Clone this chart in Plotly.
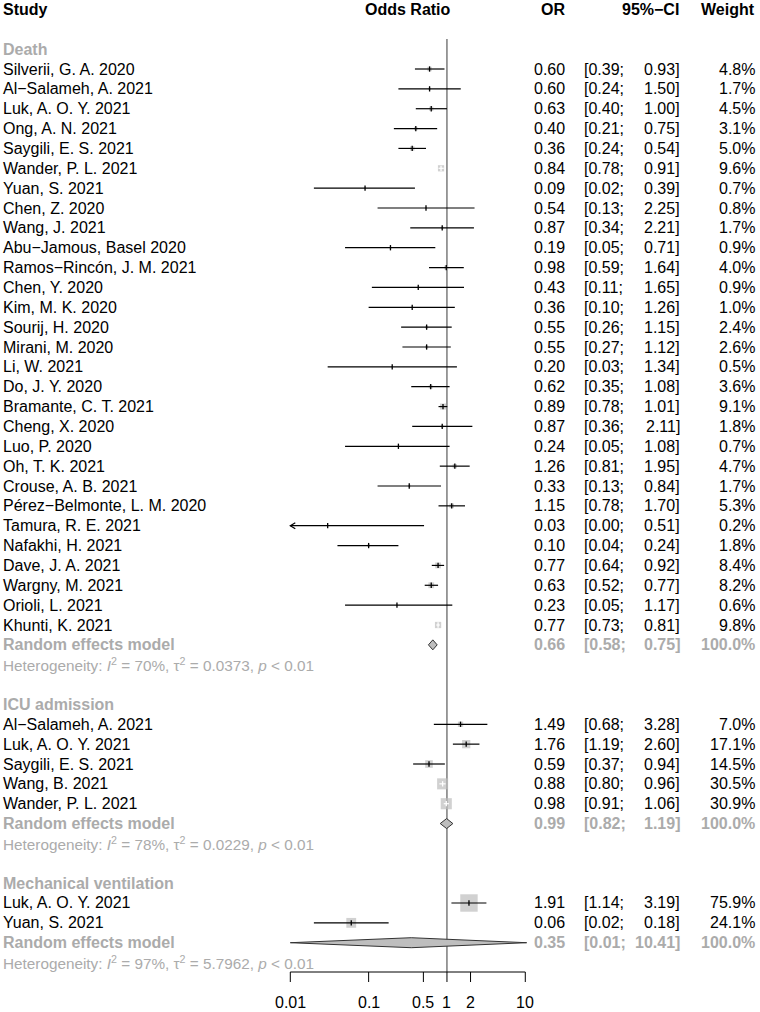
import numpy as np
import plotly.graph_objects as go

# ---------------- data ----------------
death_studies = ["Silverii, G. A. 2020", "Al−Salameh, A. 2021", "Luk, A. O. Y. 2021", "Ong, A. N. 2021",
                 "Saygili, E. S. 2021", "Wander, P. L. 2021", "Yuan, S. 2021", "Chen, Z. 2020", "Wang, J. 2021",
                 "Abu−Jamous, Basel 2020", "Ramos−Rincón, J. M. 2021", "Chen, Y. 2020", "Kim, M. K. 2020",
                 "Sourij, H. 2020", "Mirani, M. 2020", "Li, W. 2021", "Do, J. Y. 2020", "Bramante, C. T. 2021",
                 "Cheng, X. 2020", "Luo, P. 2020", "Oh, T. K. 2021", "Crouse, A. B. 2021",
                 "Pérez−Belmonte, L. M. 2020", "Tamura, R. E. 2021", "Nafakhi, H. 2021", "Dave, J. A. 2021",
                 "Wargny, M. 2021", "Orioli, L. 2021", "Khunti, K. 2021"]
death_or = [0.60, 0.60, 0.63, 0.40, 0.36, 0.84, 0.09, 0.54, 0.87, 0.19, 0.98, 0.43, 0.36, 0.55, 0.55, 0.20,
            0.62, 0.89, 0.87, 0.24, 1.26, 0.33, 1.15, 0.03, 0.10, 0.77, 0.63, 0.23, 0.77]
death_lo = [0.39, 0.24, 0.40, 0.21, 0.24, 0.78, 0.02, 0.13, 0.34, 0.05, 0.59, 0.11, 0.10, 0.26, 0.27, 0.03,
            0.35, 0.78, 0.36, 0.05, 0.81, 0.13, 0.78, 0.00, 0.04, 0.64, 0.52, 0.05, 0.73]
death_hi = [0.93, 1.50, 1.00, 0.75, 0.54, 0.91, 0.39, 2.25, 2.21, 0.71, 1.64, 1.65, 1.26, 1.15, 1.12, 1.34,
            1.08, 1.01, 2.11, 1.08, 1.95, 0.84, 1.70, 0.51, 0.24, 0.92, 0.77, 1.17, 0.81]
death_w = [4.8, 1.7, 4.5, 3.1, 5.0, 9.6, 0.7, 0.8, 1.7, 0.9, 4.0, 0.9, 1.0, 2.4, 2.6, 0.5, 3.6, 9.1, 1.8,
           0.7, 4.7, 1.7, 5.3, 0.2, 1.8, 8.4, 8.2, 0.6, 9.8]
death_pooled = [0.66, 0.58, 0.75]
death_het = ["70%", "0.0373", "0.01"]

icu_studies = ["Al−Salameh, A. 2021", "Luk, A. O. Y. 2021", "Saygili, E. S. 2021", "Wang, B. 2021",
               "Wander, P. L. 2021"]
icu_or = [1.49, 1.76, 0.59, 0.88, 0.98]
icu_lo = [0.68, 1.19, 0.37, 0.80, 0.91]
icu_hi = [3.28, 2.60, 0.94, 0.96, 1.06]
icu_w = [7.0, 17.1, 14.5, 30.5, 30.9]
icu_pooled = [0.99, 0.82, 1.19]
icu_het = ["78%", "0.0229", "0.01"]

mv_studies = ["Luk, A. O. Y. 2021", "Yuan, S. 2021"]
mv_or = [1.91, 0.06]
mv_lo = [1.14, 0.02]
mv_hi = [3.19, 0.18]
mv_w = [75.9, 24.1]
mv_pooled = [0.35, 0.01, 10.41]
mv_het = ["97%", "5.7962", "0.01"]

group_names = ["Death", "ICU admission", "Mechanical ventilation"]
tick_vals = [0.01, 0.1, 0.5, 1, 2, 10]
tick_text = ["0.01", "0.1", "0.5", "1", "2", "10"]
headers = ["Study", "Odds Ratio", "OR", "95%−CI", "Weight"]

# ---------------- layout constants ----------------
W, H = 760, 1012
X_MIN, X_MAX = 0.01, 10
PX_LEFT = 290.3      # pixel of X_MIN
PXD = 78.33          # pixels per decade
ROW0, ROWH = 9.43, 19.857
GREY_TXT = "#ababab"
SQ_COL = "#bebebe"
FONT = "Liberation Sans, Arial, Helvetica, sans-serif"
FS = 16
SQ_K = 2.0           # square side px per sqrt(weight %)

xr = [np.log10(X_MIN) - PX_LEFT / PXD, np.log10(X_MAX) + (W - (PX_LEFT + 3 * PXD)) / PXD]
yr = [(H - ROW0) / ROWH, -ROW0 / ROWH]
px_per_row = ROWH

groups = [
    dict(name=group_names[0], st=death_studies, est=death_or, lo=death_lo, hi=death_hi, w=death_w,
         pooled=death_pooled, het=death_het),
    dict(name=group_names[1], st=icu_studies, est=icu_or, lo=icu_lo, hi=icu_hi, w=icu_w,
         pooled=icu_pooled, het=icu_het),
    dict(name=group_names[2], st=mv_studies, est=mv_or, lo=mv_lo, hi=mv_hi, w=mv_w,
         pooled=mv_pooled, het=mv_het),
]

annotations = []


def txt(s, xpx, row, anchor, color="black", bold=False, size=FS):
    if bold:
        s = "<b>" + s + "</b>"
    annotations.append(dict(text=s, x=xpx / W, xref="paper", y=row, yref="y", xanchor=anchor,
                            yanchor="middle", showarrow=False, borderpad=0, borderwidth=0,
                            font=dict(family=FONT, size=size, color=color)))


COL_STUDY, COL_OR, COL_CI_L, COL_CI_R, COL_W = 3, 565, 584, 680, 755

# headers
txt(headers[0], COL_STUDY, 0, "left", bold=True)
annotations.append(dict(text="<b>" + headers[1] + "</b>", x=(np.log10(X_MIN) + np.log10(X_MAX)) / 2,
                        xref="x", y=0, yref="y", xanchor="center", yanchor="middle", showarrow=False,
                        borderpad=0, borderwidth=0,
                        font=dict(family=FONT, size=FS, color="black")))
txt(headers[2], COL_OR, 0, "right", bold=True)
txt(headers[3], COL_CI_R - 1, 0, "right", bold=True)
txt(headers[4], COL_W, 0, "right", bold=True)

sq_x, sq_y, sq_s = [], [], []
lb_x, lb_y, lw_x, lw_y = [], [], [], []
tb_x, tb_y, tw_x, tw_y = [], [], [], []
ar_x, ar_y = [], []
dm_x, dm_y = [], []

row = 2
for g in groups:
    txt(g["name"], COL_STUDY, row, "left", color=GREY_TXT, bold=True)
    row += 1
    for s, e, lo, hi, w in zip(g["st"], g["est"], g["lo"], g["hi"], g["w"]):
        txt(s, COL_STUDY, row, "left")
        txt(f"{e:.2f}", COL_OR, row, "right")
        txt(f"[{lo:.2f};", COL_CI_L, row, "left")
        txt(f"{hi:.2f}]", COL_CI_R, row, "right")
        txt(f"{w:.1f}%", COL_W, row, "right")
        side = SQ_K * np.sqrt(w)
        sq_x.append(e); sq_y.append(row); sq_s.append(side)
        half = side / 2 / PXD
        lo_plot = max(lo, X_MIN)
        inside = (lo > 0 and np.log10(lo) >= np.log10(e) - half and np.log10(hi) <= np.log10(e) + half)
        if inside:
            lw_x += [lo_plot, hi, None]; lw_y += [row, row, None]
            tw_x.append(e); tw_y.append(row)
        else:
            lb_x += [lo_plot, hi, None]; lb_y += [row, row, None]
            tb_x.append(e); tb_y.append(row)
        if lo < X_MIN:
            f = 10 ** (5 / PXD)
            dy = 3 / px_per_row
            ar_x += [X_MIN * f, X_MIN, X_MIN * f, None]
            ar_y += [row - dy, row, row + dy, None]
        row += 1
    # pooled
    pe, plo, phi = g["pooled"]
    txt("Random effects model", COL_STUDY, row, "left", color=GREY_TXT, bold=True)
    txt(f"{pe:.2f}", COL_OR, row, "right", color=GREY_TXT, bold=True)
    txt(f"[{plo:.2f};", COL_CI_L, row, "left", color=GREY_TXT, bold=True)
    txt(f"{phi:.2f}]", COL_CI_R, row, "right", color=GREY_TXT, bold=True)
    txt("100.0%", COL_W, row, "right", color=GREY_TXT, bold=True)
    dh = 5 / px_per_row
    dm_x += [plo, pe, phi, pe, plo, None]
    dm_y += [row, row - dh, row, row + dh, row, None]
    row += 1
    i2, tau2, p = g["het"]
    het = (f"Heterogeneity: <i>I</i><sup>2</sup> = {i2}, τ<sup>2</sup> = {tau2}, "
           f"<i>p</i> &lt; {p}")
    txt(het, COL_STUDY, row, "left", color=GREY_TXT, size=15.3)
    row += 2

axis_row = (972 - ROW0) / ROWH
tick_len = 10 / px_per_row

fig = go.Figure()
# reference line at 1
fig.add_trace(go.Scatter(x=[1, 1], y=[(39 - ROW0) / ROWH, axis_row], mode="lines",
                         line=dict(color="#3a3a3a", width=1)))
# squares
fig.add_trace(go.Scatter(x=sq_x, y=sq_y, mode="markers",
                         marker=dict(symbol="square", size=sq_s, color=SQ_COL, line=dict(width=0))))
# CI lines
fig.add_trace(go.Scatter(x=lb_x, y=lb_y, mode="lines", line=dict(color="black", width=1.2)))
fig.add_trace(go.Scatter(x=lw_x, y=lw_y, mode="lines", line=dict(color="white", width=1.2)))
# estimate ticks
fig.add_trace(go.Scatter(x=tb_x, y=tb_y, mode="markers",
                         marker=dict(symbol="line-ns", size=3.8, line=dict(color="black", width=1.3))))
fig.add_trace(go.Scatter(x=tw_x, y=tw_y, mode="markers",
                         marker=dict(symbol="line-ns", size=3.8, line=dict(color="white", width=1.3))))
# arrow
fig.add_trace(go.Scatter(x=ar_x, y=ar_y, mode="lines", line=dict(color="black", width=1.2)))
# diamonds
fig.add_trace(go.Scatter(x=dm_x, y=dm_y, mode="lines", fill="toself", fillcolor=SQ_COL,
                         line=dict(color="#333333", width=1)))
# x axis
ax_x = [X_MIN, X_MAX, None]
ax_y = [axis_row, axis_row, None]
for v in tick_vals:
    ax_x += [v, v, None]
    ax_y += [axis_row, axis_row + tick_len, None]
fig.add_trace(go.Scatter(x=ax_x, y=ax_y, mode="lines", line=dict(color="black", width=1)))
for v, t in zip(tick_vals, tick_text):
    annotations.append(dict(text=t, x=np.log10(v), xref="x", y=(1002 - ROW0) / ROWH, yref="y",
                            xanchor="center", yanchor="middle", showarrow=False,
                            borderpad=0, borderwidth=0,
                            font=dict(family=FONT, size=FS, color="black")))

fig.update_traces(showlegend=False, hoverinfo="skip", cliponaxis=False)
fig.update_layout(
    width=W, height=H, margin=dict(l=0, r=0, t=0, b=0),
    paper_bgcolor="white", plot_bgcolor="white",
    xaxis=dict(type="log", range=xr, visible=False, fixedrange=True),
    yaxis=dict(range=yr, visible=False, fixedrange=True),
    annotations=annotations,
)
fig.write_html("out.html", config=dict(displayModeBar=False),
               post_script="document.body.style.margin='0';document.body.style.padding='0';"
                           "document.body.style.overflow='hidden';")
